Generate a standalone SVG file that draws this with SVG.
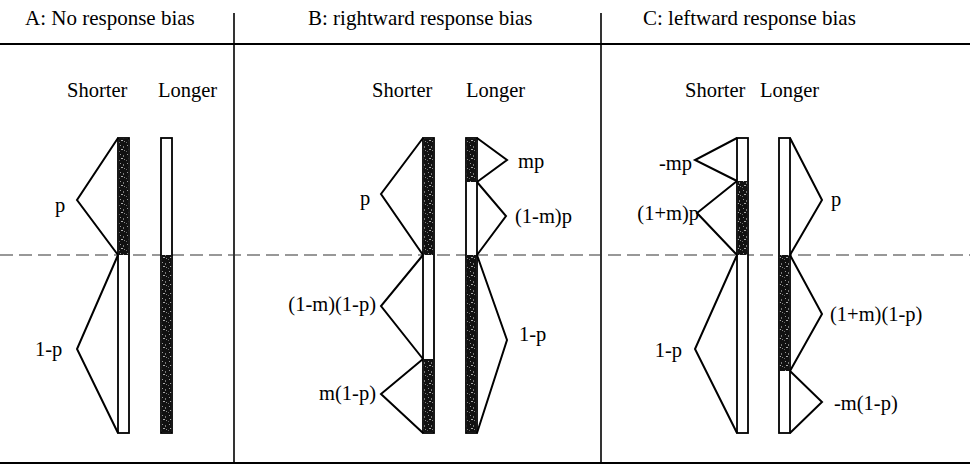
<svg xmlns="http://www.w3.org/2000/svg" width="970" height="466" viewBox="0 0 970 466">
<style>
  text { font-family: "Liberation Serif", "Times New Roman", serif; fill: #000; }
  .title { font-size: 21px; }
  .lab { font-size: 20.5px; }
  .tri { fill: none; stroke: #000; stroke-width: 2; stroke-linejoin: miter; }
  .bar { fill: #fff; stroke: #000; stroke-width: 1.8; }
  .dark { fill: url(#speck); stroke: none; }
  .rule { stroke: #000; stroke-width: 2.2; fill: none; }
  .div { stroke: #000; stroke-width: 1.6; fill: none; }
  .dash { stroke: #333; stroke-width: 1.2; stroke-dasharray: 13 6; fill: none; }
</style>
<defs>
  <pattern id="speck" width="7" height="9" patternUnits="userSpaceOnUse">
    <rect width="7" height="9" fill="#111"/>
    <rect x="1" y="1" width="1" height="1" fill="#999"/>
    <rect x="4" y="2" width="1" height="2" fill="#777"/>
    <rect x="2" y="5" width="2" height="1" fill="#aaa"/>
    <rect x="5" y="6" width="1" height="1" fill="#888"/>
    <rect x="0" y="7" width="1" height="1" fill="#666"/>
  </pattern>
</defs>
<rect width="970" height="466" fill="#fff"/>

<g id="frame">
  <line class="rule" x1="0" y1="44" x2="970" y2="44"/>
  <line class="rule" x1="0" y1="463" x2="970" y2="463"/>
  <line class="div" x1="234" y1="13" x2="234" y2="463"/>
  <line class="div" x1="601" y1="13" x2="601" y2="463"/>
  <line class="dash" x1="0" y1="255" x2="970" y2="255"/>
</g>

<g id="titles">
  <text class="title" x="25" y="25">A: No response bias</text>
  <text class="title" x="308" y="25">B: rightward response bias</text>
  <text class="title" x="643" y="25">C: leftward response bias</text>
</g>

<!-- Panel A -->
<g id="panelA">
  <text class="lab" x="67" y="97">Shorter</text>
  <text class="lab" x="158" y="97">Longer</text>
  <g id="A-shorter">
    <rect class="bar" x="118" y="138" width="11" height="295"/>
    <rect class="dark" x="118.9" y="138.9" width="9.2" height="116.1"/>
  </g>
  <g id="A-longer">
    <rect class="bar" x="161" y="138" width="11" height="295"/>
    <rect class="dark" x="161.9" y="255" width="9.2" height="177.1"/>
  </g>
  <g id="A-tri">
    <polyline class="tri" points="118,138 77,200 118,255"/>
    <polyline class="tri" points="118,255 77,349 118,433"/>
  </g>
  <text class="lab" x="55" y="212">p</text>
  <text class="lab" x="35" y="356">1-p</text>
</g>

<!-- Panel B -->
<g id="panelB">
  <text class="lab" x="372" y="97">Shorter</text>
  <text class="lab" x="466" y="97">Longer</text>
  <g id="B-shorter">
    <rect class="bar" x="423" y="138" width="11" height="295"/>
    <rect class="dark" x="423.9" y="138.9" width="9.2" height="116.1"/>
    <rect class="dark" x="423.9" y="359" width="9.2" height="73.1"/>
  </g>
  <g id="B-longer">
    <rect class="bar" x="466" y="138" width="11" height="295"/>
    <rect class="dark" x="466.9" y="138.9" width="9.2" height="43.1"/>
    <rect class="dark" x="466.9" y="255" width="9.2" height="177.1"/>
  </g>
  <g id="B-tri">
    <polyline class="tri" points="423,138 381,194 423,255"/>
    <polyline class="tri" points="423,255 381,306 423,359"/>
    <polyline class="tri" points="423,359 381,394 423,433"/>
    <polyline class="tri" points="477,138 507,160 477,182"/>
    <polyline class="tri" points="477,182 506,216 477,255"/>
    <polyline class="tri" points="477,255 507,340 477,433"/>
  </g>
  <text class="lab" x="360" y="205">p</text>
  <text class="lab" x="376" y="311" text-anchor="end">(1-m)(1-p)</text>
  <text class="lab" x="376" y="400" text-anchor="end">m(1-p)</text>
  <text class="lab" x="518" y="168">mp</text>
  <text class="lab" x="515" y="223">(1-m)p</text>
  <text class="lab" x="519" y="341">1-p</text>
</g>

<!-- Panel C -->
<g id="panelC">
  <text class="lab" x="685" y="97">Shorter</text>
  <text class="lab" x="760" y="97">Longer</text>
  <g id="C-shorter">
    <rect class="bar" x="737" y="138" width="11" height="295"/>
    <rect class="dark" x="737.9" y="181" width="9.2" height="74"/>
  </g>
  <g id="C-longer">
    <rect class="bar" x="779" y="138" width="11" height="295"/>
    <rect class="dark" x="779.9" y="255" width="9.2" height="116"/>
  </g>
  <g id="C-tri">
    <polyline class="tri" points="737,138 695,160 737,181"/>
    <polyline class="tri" points="737,181 697,213 737,255"/>
    <polyline class="tri" points="737,255 695,349 737,433"/>
    <polyline class="tri" points="790,138 822,200 790,255"/>
    <polyline class="tri" points="790,255 822,314 790,371"/>
    <polyline class="tri" points="790,371 822,402 790,433"/>
  </g>
  <text class="lab" x="692" y="170" text-anchor="end">-mp</text>
  <text class="lab" x="699" y="220" text-anchor="end">(1+m)p</text>
  <text class="lab" x="682" y="357" text-anchor="end">1-p</text>
  <text class="lab" x="831" y="206">p</text>
  <text class="lab" x="830" y="321">(1+m)(1-p)</text>
  <text class="lab" x="834" y="410">-m(1-p)</text>
</g>
</svg>
